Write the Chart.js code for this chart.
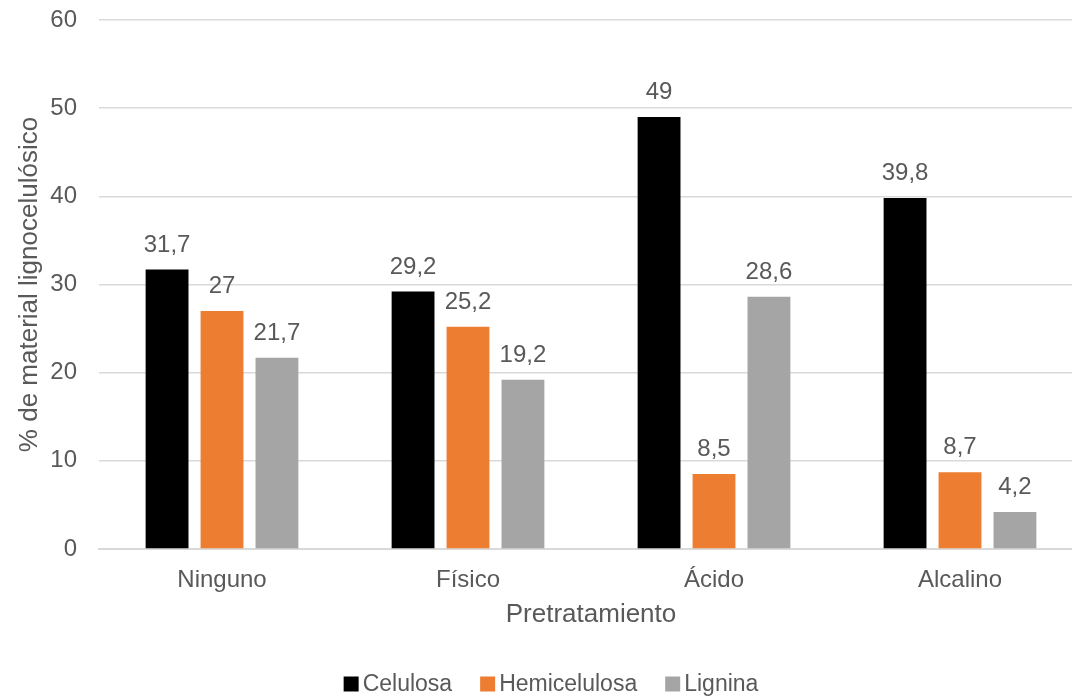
<!DOCTYPE html>
<html>
<head>
<meta charset="utf-8">
<script src="https://cdn.jsdelivr.net/npm/chart.js@4"></script>
<style>
  body { margin: 0; background: #fff; overflow: hidden; }
  #clip { width: 1072px; height: 700px; overflow: hidden; position: relative; }
  #wrap { width: 1083px; height: 700px; position: absolute; left: 0; top: 0; }
</style>
</head>
<body>
<div id="clip"><div id="wrap"><canvas id="chart"></canvas></div></div>
<script>
// data
const categories = ["Ninguno", "Físico", "Ácido", "Alcalino"];
const celulosa = [31.7, 29.2, 49, 39.8];
const hemicelulosa = [27, 25.2, 8.5, 8.7];
const lignina = [21.7, 19.2, 28.6, 4.2];
const seriesNames = ["Celulosa", "Hemicelulosa", "Lignina"];
const seriesColors = ["#000000", "#ED7D31", "#A5A5A5"];

const textColor = "#595959";
const fontName = "'Liberation Sans', Arial, sans-serif";
Chart.defaults.font.family = fontName;
Chart.defaults.color = textColor;

// values on top of bars, comma decimals
const valueLabels = {
  id: "valueLabels",
  afterDatasetsDraw(chart) {
    const ctx = chart.ctx;
    ctx.save();
    ctx.font = "24px " + fontName;
    ctx.fillStyle = textColor;
    ctx.textAlign = "center";
    ctx.textBaseline = "alphabetic";
    chart.data.datasets.forEach((ds, i) => {
      chart.getDatasetMeta(i).data.forEach((bar, j) => {
        const txt = String(ds.data[j]).replace(".", ",");
        ctx.fillText(txt, bar.x, bar.y - 18);
      });
    });
    ctx.restore();
  },
};

// legend drawn by hand so spacing is like the original
const bottomLegend = {
  id: "bottomLegend",
  afterDraw(chart) {
    const ctx = chart.ctx;
    ctx.save();
    ctx.font = "23px " + fontName;
    const box = 15, gap = 4, itemGap = 28;
    const widths = chart.data.datasets.map((ds) => box + gap + ctx.measureText(ds.label).width);
    const total = widths.reduce((a, b) => a + b, 0) + itemGap * (widths.length - 1);
    let x = 551 - total / 2;
    const y = 684;
    ctx.textBaseline = "middle";
    ctx.textAlign = "left";
    chart.data.datasets.forEach((ds, i) => {
      ctx.fillStyle = ds.backgroundColor;
      ctx.fillRect(x, y - box / 2, box, box);
      ctx.fillStyle = textColor;
      ctx.fillText(ds.label, x + box + gap, y + 1);
      x += widths[i] + itemGap;
    });
    ctx.restore();
  },
};

new Chart(document.getElementById("chart"), {
  type: "bar",
  data: {
    labels: categories,
    datasets: [
      { label: seriesNames[0], data: celulosa, backgroundColor: seriesColors[0] },
      { label: seriesNames[1], data: hemicelulosa, backgroundColor: seriesColors[1] },
      { label: seriesNames[2], data: lignina, backgroundColor: seriesColors[2] },
    ],
  },
  options: {
    responsive: true,
    maintainAspectRatio: false,
    animation: false,
    datasets: {
      bar: { barPercentage: 0.78, categoryPercentage: 0.67 },
    },
    layout: { padding: { top: 0, right: 0, left: 4, bottom: 40 } },
    plugins: {
      tooltip: { enabled: false },
      legend: { display: false },
    },
    scales: {
      x: {
        grid: { display: false },
        border: { color: "#D9D9D9", width: 2 },
        ticks: { font: { size: 24 }, padding: 9 },
        title: {
          display: true,
          text: "Pretratamiento",
          font: { size: 26 },
          padding: { top: 0, bottom: 30 },
        },
        afterFit(scale) { scale.height = 111; },
      },
      y: {
        min: 0,
        max: 60,
        ticks: { stepSize: 10, font: { size: 24 }, padding: 22 },
        grid: { color: "#D9D9D9", lineWidth: 1.5, drawTicks: false },
        border: { display: false },
        title: {
          display: true,
          text: "% de material lignocelulósico",
          font: { size: 26 },
          padding: { top: 10, bottom: 0 },
        },
        afterFit(scale) {
          scale.width = 95;
          // tick padding would also push the top down
          scale.paddingTop = 20;
          scale.paddingBottom = 0;
        },
      },
    },
  },
  plugins: [valueLabels, bottomLegend],
});
</script>
</body>
</html>
